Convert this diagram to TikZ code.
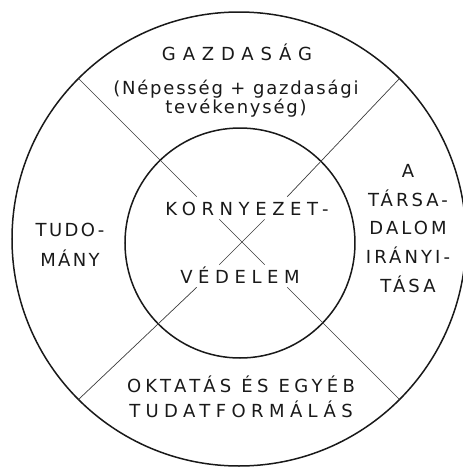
\documentclass[tikz,border=0pt]{standalone}
\usepackage{fontspec}
\setmainfont{DejaVu Sans}
\usepackage{tikz}
\usetikzlibrary{calc}
\definecolor{InkBlack}{RGB}{25,25,25}
\tikzset{
  ring/.style={circle,draw=InkBlack,line width=1.5pt,inner sep=0pt,outer sep=0pt},
  divider/.style={draw=InkBlack!85,line width=0.7pt},
  lettering/.style 2 args={font=\fontsize{18}{#2}\selectfont\addfontfeatures{LetterSpace=#1},
    text=InkBlack,align=center,inner sep=0pt},
}

\begin{document}
\begin{tikzpicture}[x=1pt,y=1pt]
  \useasboundingbox (-242,-225) rectangle (221,242);
  \coordinate (hub) at (0,0);
  \node[ring,minimum size=454pt] (outer) at (-3,3) {};
  \node[ring,minimum size=230pt] (inner) at (-2,-1) {};
  \foreach \a in {45,135,225,315}
    \draw[divider] ($(hub)+(\a:64)$) -- (outer.\a);
  \foreach \a in {45,135,225,315}
    \draw[divider] (hub) -- ++(\a:32);
  \node[lettering={38}{20}] (gazd) at (-5,190) {GAZDASÁG};
  \node[lettering={10}{17}] (nepes) at (-6,143) {(Népesség + gazdasági\\tevékenység)};
  \node[lettering={13}{30}] (tudo) at (-172,-3) {TUDO-\\MÁNY};
  \node[lettering={17}{28.75}] (tars) at (166,13.5) {A\\TÁRSA-\\DALOM\\IRÁNYI-\\TÁSA};
  \node[lettering={31}{20}] (korny) at (5,33.5) {KORNYEZET-};
  \node[lettering={31}{20}] (vedel) at (-2,-33.5) {VÉDELEM};
  \node[lettering={24}{25}] (oktat) at (-1,-155) {OKTATÁS ÉS EGYÉB\\\addfontfeatures{LetterSpace=30}TUDATFORMÁLÁS};
\end{tikzpicture}
\end{document}
